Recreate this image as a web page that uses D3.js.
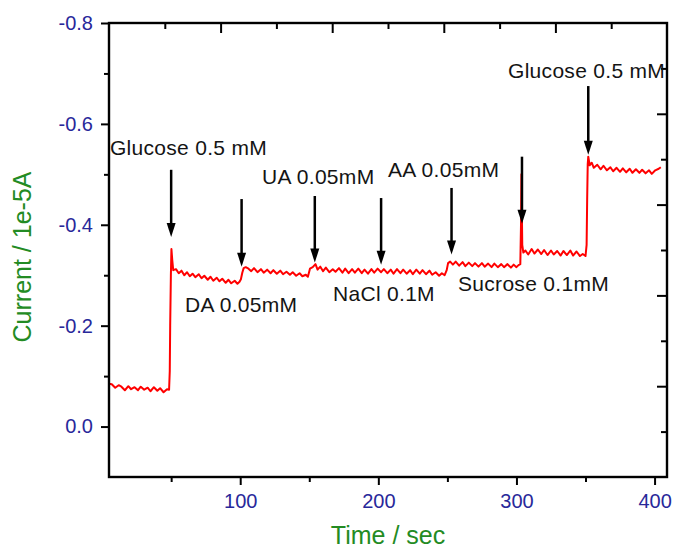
<!DOCTYPE html>
<html>
<head>
<meta charset="utf-8">
<script src="https://d3js.org/d3.v7.min.js"></script>
<style>
  body { margin: 0; background: #fff; }
  svg { font-family: "Liberation Sans", Arial, sans-serif; }
  .tick-label { fill: #28289a; font-size: 20px; }
  .axis-title { fill: #238b23; font-size: 25px; }
  .note { fill: #141414; font-size: 21px; letter-spacing: 0.3px; }
</style>
</head>
<body>
<div id="chart"></div>
<script>
// amperometric response (time in s, current in 1e-5 A)
var timeSec = [
  5, 7, 9.5, 12, 14, 16.5, 19, 21, 23.5, 26, 28, 30.5, 33, 35, 37.5, 40, 42, 44.5, 47, 48.5,
  49, 49.3, 49.8, 50.2, 50.8, 51.5,
  53.5, 55.5, 57.5, 59.5, 61.5, 63.5, 65.5, 67.5, 70, 72, 74, 76.5, 78.5, 80.5, 83, 85, 87, 89.5, 91.5, 93.5, 96, 98, 99.5,
  100.5, 101.5, 102.5, 104,
  106, 108, 110, 112.5, 115, 117, 119.5, 122, 124, 126.5, 129, 131, 133.5, 136, 138, 140.5, 143, 145, 147.5, 149,
  150.5, 152.5, 154.5, 156, 158, 160, 162, 164.5, 167, 169,
  171.5, 174, 176, 178.5, 181, 183, 185.5, 188, 190, 192.5, 195, 197, 199.5, 202, 204, 206.5, 209, 211, 213.5, 216,
  218, 220.5, 223, 225, 227.5, 230, 232, 234.5, 237, 239, 241.5, 244, 246, 248,
  249.5, 250.5, 252,
  254, 256, 258.5, 261, 263, 265.5, 268, 270, 272.5, 275, 277, 279.5, 282, 284, 286.5, 289, 291, 293.5, 296, 298, 300, 301.5,
  302.8, 303.3, 303.6, 304.2, 305,
  306.5, 308.5, 311, 313, 315.5, 318, 320, 322.5, 325, 327, 329.5, 332, 334, 336.5, 339, 341, 343.5, 346, 348, 350,
  350.8, 351.2, 351.6, 352, 353, 354.5,
  356, 358.5, 361, 363, 365.5, 368, 370, 372.5, 375, 377, 379.5, 382, 384, 386.5, 389, 391, 393.5, 396, 398, 400.5, 403, 404.5
];
var currentVal = [
  -0.085, -0.084, -0.077, -0.082, -0.079, -0.072, -0.080, -0.074, -0.078, -0.072, -0.079, -0.073, -0.077, -0.070, -0.078, -0.071, -0.076, -0.068, -0.074, -0.073,
  -0.11, -0.20, -0.30, -0.352, -0.33, -0.31,
  -0.312, -0.304, -0.309, -0.300, -0.306, -0.298, -0.303, -0.296, -0.302, -0.294, -0.299, -0.291, -0.297, -0.289, -0.295, -0.288, -0.293, -0.285, -0.291, -0.284, -0.289, -0.283, -0.287,
  -0.292, -0.305, -0.314, -0.316,
  -0.313, -0.308, -0.314, -0.306, -0.312, -0.305, -0.311, -0.304, -0.310, -0.303, -0.309, -0.302, -0.307, -0.301, -0.306, -0.299, -0.304, -0.298, -0.301, -0.297,
  -0.313, -0.316, -0.322, -0.311, -0.317, -0.308, -0.315, -0.306, -0.312, -0.307,
  -0.314, -0.305, -0.313, -0.304, -0.312, -0.305, -0.313, -0.304, -0.311, -0.303, -0.312, -0.305, -0.313, -0.306, -0.312, -0.304, -0.311, -0.303, -0.312, -0.304,
  -0.311, -0.303, -0.310, -0.302, -0.311, -0.303, -0.310, -0.302, -0.309, -0.301, -0.306, -0.299, -0.304, -0.300,
  -0.310, -0.324, -0.327,
  -0.321, -0.327, -0.319, -0.326, -0.318, -0.325, -0.318, -0.324, -0.317, -0.324, -0.317, -0.323, -0.316, -0.323, -0.316, -0.322, -0.316, -0.322, -0.315, -0.321, -0.316, -0.320,
  -0.322, -0.40, -0.50, -0.36, -0.345,
  -0.349, -0.341, -0.352, -0.343, -0.351, -0.342, -0.350, -0.340, -0.349, -0.341, -0.348, -0.339, -0.348, -0.340, -0.349, -0.339, -0.347, -0.338, -0.342, -0.338,
  -0.36, -0.45, -0.52, -0.535, -0.518, -0.523,
  -0.513, -0.519, -0.510, -0.517, -0.508, -0.514, -0.506, -0.513, -0.505, -0.512, -0.504, -0.511, -0.503, -0.510, -0.503, -0.509, -0.502, -0.508, -0.501, -0.508, -0.511, -0.514
];

// injection arrows: time, tail value, tip value
var arrowTime = [50, 101, 154, 202, 253, 304, 352];
var arrowTail = [-0.509, -0.451, -0.457, -0.453, -0.473, -0.535, -0.675];
var arrowTip = [-0.376, -0.317, -0.325, -0.321, -0.341, -0.402, -0.539];

// annotation labels: text, start time, baseline value
var noteText = ["Glucose 0.5 mM", "UA 0.05mM", "AA 0.05mM", "Glucose 0.5 mM", "DA 0.05mM", "NaCl 0.1M", "Sucrose 0.1mM"];
var noteTime = [5.7, 115.8, 207, 293.9, 60, 167.2, 257.7];
var noteVal = [-0.538, -0.481, -0.495, -0.691, -0.227, -0.249, -0.269];

var xMajor = [100, 200, 300, 400];
var xMinor = [50, 150, 250, 350];
var yMajor = [-0.8, -0.6, -0.4, -0.2, 0.0];
var yMinor = [-0.7, -0.5, -0.3, -0.1];

var W = 675, H = 551;
var m = {left: 109, top: 23, right: 8, bottom: 74};
var w = W - m.left - m.right, h = H - m.top - m.bottom;

var svg = d3.select("#chart").append("svg")
  .attr("width", W).attr("height", H);
var g = svg.append("g").attr("transform", `translate(${m.left},${m.top})`);

var x = d3.scaleLinear().domain([5, 409]).range([0, w]);
var y = d3.scaleLinear().domain([-0.8, 0.1]).range([0, h]);
// opposite frame axes are split into 10 plain divisions
var divX = d3.scaleLinear().domain([0, 10]).range([0, w]);
var divY = d3.scaleLinear().domain([0, 10]).range([0, h]);

function styleAxis(sel) {
  sel.select(".domain").remove();
  sel.selectAll(".tick line").attr("stroke", "#000").attr("stroke-width", 2);
}

// bottom axis
g.append("g").attr("transform", `translate(0,${h})`)
  .call(d3.axisBottom(x).tickValues(xMajor).tickSize(8).tickPadding(9).tickFormat(d3.format("d")))
  .call(styleAxis)
  .selectAll("text").attr("class", "tick-label").attr("font-family", null).attr("font-size", null);
g.append("g").attr("transform", `translate(0,${h})`)
  .call(d3.axisBottom(x).tickValues(xMinor).tickSize(5).tickFormat(""))
  .call(styleAxis);

// left axis
g.append("g")
  .call(d3.axisLeft(y).tickValues(yMajor).tickSize(8).tickPadding(8).tickFormat(d => d.toFixed(1)))
  .call(styleAxis)
  .selectAll("text").attr("class", "tick-label").attr("font-family", null).attr("font-size", null);
g.append("g")
  .call(d3.axisLeft(y).tickValues(yMinor).tickSize(5).tickFormat(""))
  .call(styleAxis);

// top axis, ticks inward
g.append("g")
  .call(d3.axisBottom(divX).tickValues(d3.range(1, 10)).tickSize(1).tickFormat(""))
  .call(styleAxis)
  .selectAll(".tick line").attr("y2", d => d % 2 ? 6 : 10);

// right axis, ticks inward
g.append("g").attr("transform", `translate(${w},0)`)
  .call(d3.axisLeft(divY).tickValues(d3.range(1, 10)).tickSize(1).tickFormat(""))
  .call(styleAxis)
  .selectAll(".tick line").attr("x2", d => d % 2 ? -6 : -10);

// curve
var pts = timeSec.map((t, i) => [t, currentVal[i]]);
g.append("path")
  .datum(pts)
  .attr("fill", "none")
  .attr("stroke", "#ff0000")
  .attr("stroke-width", 2)
  .attr("stroke-linejoin", "round")
  .attr("d", d3.line().x(d => x(d[0])).y(d => y(d[1])));

// arrows
var arrows = g.selectAll(".arrow").data(arrowTime).enter().append("g").attr("class", "arrow");
arrows.append("line")
  .attr("x1", d => x(d)).attr("x2", d => x(d))
  .attr("y1", (d, i) => y(arrowTail[i]))
  .attr("y2", (d, i) => y(arrowTip[i]) - 10)
  .attr("stroke", "#000").attr("stroke-width", 2.5);
arrows.append("path")
  .attr("fill", "#000")
  .attr("d", (d, i) => {
    var cx = x(d), ty = y(arrowTip[i]);
    return `M${cx - 4.5},${ty - 14}L${cx + 4.5},${ty - 14}L${cx},${ty}Z`;
  });

// frame
g.append("rect")
  .attr("width", w).attr("height", h)
  .attr("fill", "none").attr("stroke", "#000").attr("stroke-width", 2.4);

// annotation text
g.selectAll(".note").data(noteText).enter().append("text")
  .attr("class", "note")
  .attr("x", (d, i) => x(noteTime[i]))
  .attr("y", (d, i) => y(noteVal[i]))
  .text(d => d);

// axis titles
svg.append("text").attr("class", "axis-title")
  .attr("x", m.left + w / 2).attr("y", 544)
  .attr("text-anchor", "middle")
  .text("Time / sec");
svg.append("text").attr("class", "axis-title")
  .attr("transform", "translate(31,257) rotate(-90)")
  .attr("text-anchor", "middle")
  .text("Current / 1e-5A");
</script>
</body>
</html>
